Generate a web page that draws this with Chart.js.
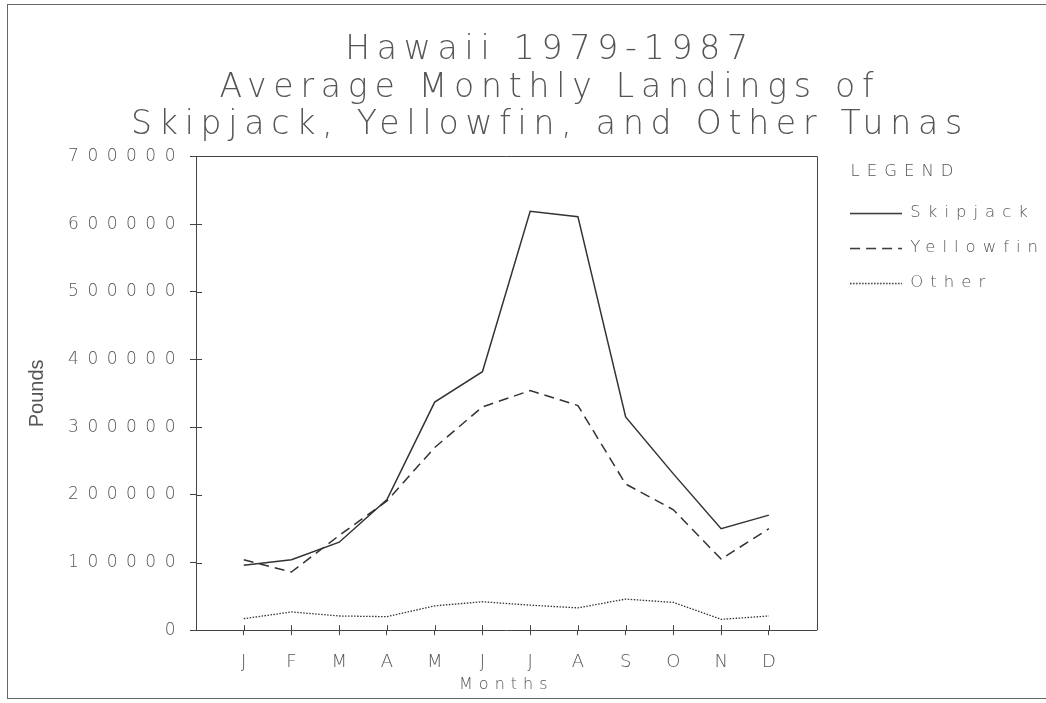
<!DOCTYPE html>
<html>
<head>
<meta charset="utf-8">
<script src="https://cdn.jsdelivr.net/npm/chart.js@4.4.0/dist/chart.umd.min.js"></script>
<style>
html,body{margin:0;padding:0;background:#fff;}
canvas{display:block;}
</style>
</head>
<body>
<canvas id="c" width="1046" height="703"></canvas>
<script>
// ---- data ----
const months = ['J','F','M','A','M','J','J','A','S','O','N','D'];
const skipjack  = [96000, 104000, 130000, 193000, 337000, 382000, 619000, 611000, 315000, 231000, 150000, 170000];
const yellowfin = [104000, 86000, 140000, 191000, 270000, 330000, 354000, 332000, 216000, 178000, 105000, 150000];
const other     = [17000, 27000, 21000, 20000, 36000, 42000, 37000, 33000, 46000, 41000, 16000, 21000];
const yTicks = [0, 100000, 200000, 300000, 400000, 500000, 600000, 700000];
const titleLines = ['Hawaii 1979-1987', 'Average Monthly Landings of', 'Skipjack, Yellowfin, and Other Tunas'];
const seriesNames = ['Skipjack', 'Yellowfin', 'Other'];

// ---- wide "plotter" lettering via canvas letterSpacing ----
function spacingFor(font) {
  if (/Liberation/.test(font)) return 0;
  const m = /(\d+(?:\.\d+)?)px/.exec(font);
  const px = m ? parseFloat(m[1]) : 12;
  if (px >= 30) return 6.8;
  if (px >= 18) return 0;
  if (px >= 17) return 8.5;
  if (px >= 16.5) return 7;
  return 6;
}
const proto = CanvasRenderingContext2D.prototype;
const oFill = proto.fillText, oMeasure = proto.measureText;
proto.fillText = function (t, x, y, mw) {
  this.letterSpacing = spacingFor(this.font) + 'px';
  return (mw === undefined || mw === null) ? oFill.call(this, t, x, y) : oFill.call(this, t, x, y, mw);
};
proto.measureText = function (t) {
  this.letterSpacing = spacingFor(this.font) + 'px';
  return oMeasure.call(this, t);
};

const FONT = "'DejaVu Sans', sans-serif";
const TXT = '#555';
const LINE = '#333';
const PAD_LEFT = 60;

const toXY = arr => arr.map((v, i) => ({x: i, y: v}));

// legend swatch: a short line drawn with the dataset's own dash pattern
function swatch(ds) {
  const c = document.createElement('canvas');
  c.width = 52; c.height = 6;
  const g = c.getContext('2d');
  g.strokeStyle = ds.borderColor;
  g.lineWidth = ds.borderWidth;
  g.setLineDash(ds.borderDash || []);
  g.beginPath(); g.moveTo(0, 3.5); g.lineTo(52, 3.5); g.stroke();
  return c;
}

const decor = {
  id: 'decor',
  afterLayout(chart) {
    const lg = chart.legend;
    lg.left += 15;
    lg.right += 15;
    if (!lg._titleShifted) {
      ['drawTitle', '_drawTitle'].forEach(name => {
        if (typeof lg[name] === 'function') {
          const orig = lg[name];
          lg[name] = function () {
            const l = this.left;
            this.left = l + 19;          // indent the "LEGEND" heading
            try { return orig.apply(this, arguments); } finally { this.left = l; }
          };
        }
      });
      lg._titleShifted = true;
    }
  },
  afterDraw(chart) {
    const {ctx, chartArea: a, scales: {x, y}} = chart;
    ctx.save();
    ctx.strokeStyle = '#444';
    ctx.lineWidth = 1;
    ctx.beginPath();
    ctx.moveTo(a.left, Math.round(a.top) + 0.5);
    ctx.lineTo(Math.round(a.right) + 0.5, Math.round(a.top) + 0.5);
    ctx.lineTo(Math.round(a.right) + 0.5, a.bottom);
    ctx.stroke();
    ctx.beginPath();
    y.ticks.forEach(t => {
      const py = Math.round(y.getPixelForValue(t.value)) + 0.5;
      ctx.moveTo(a.left, py); ctx.lineTo(a.left + 6, py);
    });
    x.ticks.forEach(t => {
      const px = Math.round(x.getPixelForValue(t.value)) + 0.5;
      ctx.moveTo(px, a.bottom); ctx.lineTo(px, a.bottom - 5);
    });
    ctx.stroke();
    ctx.strokeStyle = '#666';
    ctx.strokeRect(7.5, 4.5, 1100, 694);
    ctx.restore();
  }
};

new Chart(document.getElementById('c'), {
  type: 'line',
  data: {
    datasets: [
      {label: seriesNames[0], data: toXY(skipjack), borderColor: LINE, backgroundColor: LINE, borderWidth: 1.5, pointRadius: 0, tension: 0, fill: false},
      {label: seriesNames[1], data: toXY(yellowfin), borderColor: LINE, backgroundColor: LINE, borderWidth: 1.5, borderDash: [10, 6], pointRadius: 0, tension: 0, fill: false},
      {label: seriesNames[2], data: toXY(other), borderColor: LINE, backgroundColor: LINE, borderWidth: 1.3, borderDash: [1.5, 1.5], pointRadius: 0, tension: 0, fill: false}
    ]
  },
  options: {
    responsive: false,
    animation: false,
    layout: {padding: {left: PAD_LEFT, right: 6, top: 0, bottom: 7}},
    plugins: {
      title: {
        display: true, text: titleLines, color: TXT,
        font: {family: FONT, size: 33, weight: '200', lineHeight: 1.136},
        padding: {top: 32, bottom: 12}
      },
      legend: {
        position: 'right', align: 'start', fullSize: false,
        title: {display: true, text: 'LEGEND', position: 'start', color: TXT, font: {family: FONT, size: 16.5, weight: '200'}, padding: {top: 7, bottom: 3}},
        labels: {
          usePointStyle: true, pointStyleWidth: 52, boxHeight: 17, color: TXT,
          font: {family: FONT, size: 16.5, weight: '200'}, padding: 18.5,
          generateLabels: chart => {
            const items = Chart.defaults.plugins.legend.labels.generateLabels(chart);
            items.forEach(it => { it.pointStyle = swatch(chart.data.datasets[it.datasetIndex]); });
            return items;
          }
        }
      },
      tooltip: {enabled: false}
    },
    scales: {
      x: {
        type: 'linear', min: -1, max: 12,
        afterBuildTicks: s => { s.ticks = months.map((m, i) => ({value: i})); },
        ticks: {callback: v => months[v] ?? '', autoSkip: false, maxRotation: 0, padding: 16, color: TXT,
                font: {family: FONT, size: 18, weight: '200'}},
        grid: {drawOnChartArea: false, tickLength: 5, color: '#444'},
        border: {display: true, color: '#444'},
        title: {display: true, text: 'Months', color: TXT, font: {family: FONT, size: 16, weight: '200'}, padding: {top: -14, bottom: 2}}
      },
      y: {
        min: 0, max: 700000,
        afterBuildTicks: s => { s.ticks = yTicks.map(v => ({value: v})); },
        afterFit: s => { s.width = 196 - PAD_LEFT; },
        ticks: {callback: v => String(v), padding: 6, color: TXT, font: {family: FONT, size: 17, weight: '200'}},
        grid: {drawOnChartArea: false, tickLength: 6, color: '#444'},
        border: {display: true, color: '#444'},
        title: {display: true, text: 'Pounds', color: TXT, font: {family: "'Liberation Sans', sans-serif", size: 20, weight: '300'}, padding: {top: 37 - PAD_LEFT - 12, bottom: 0}}
      }
    }
  },
  plugins: [decor]
});
</script>
</body>
</html>
